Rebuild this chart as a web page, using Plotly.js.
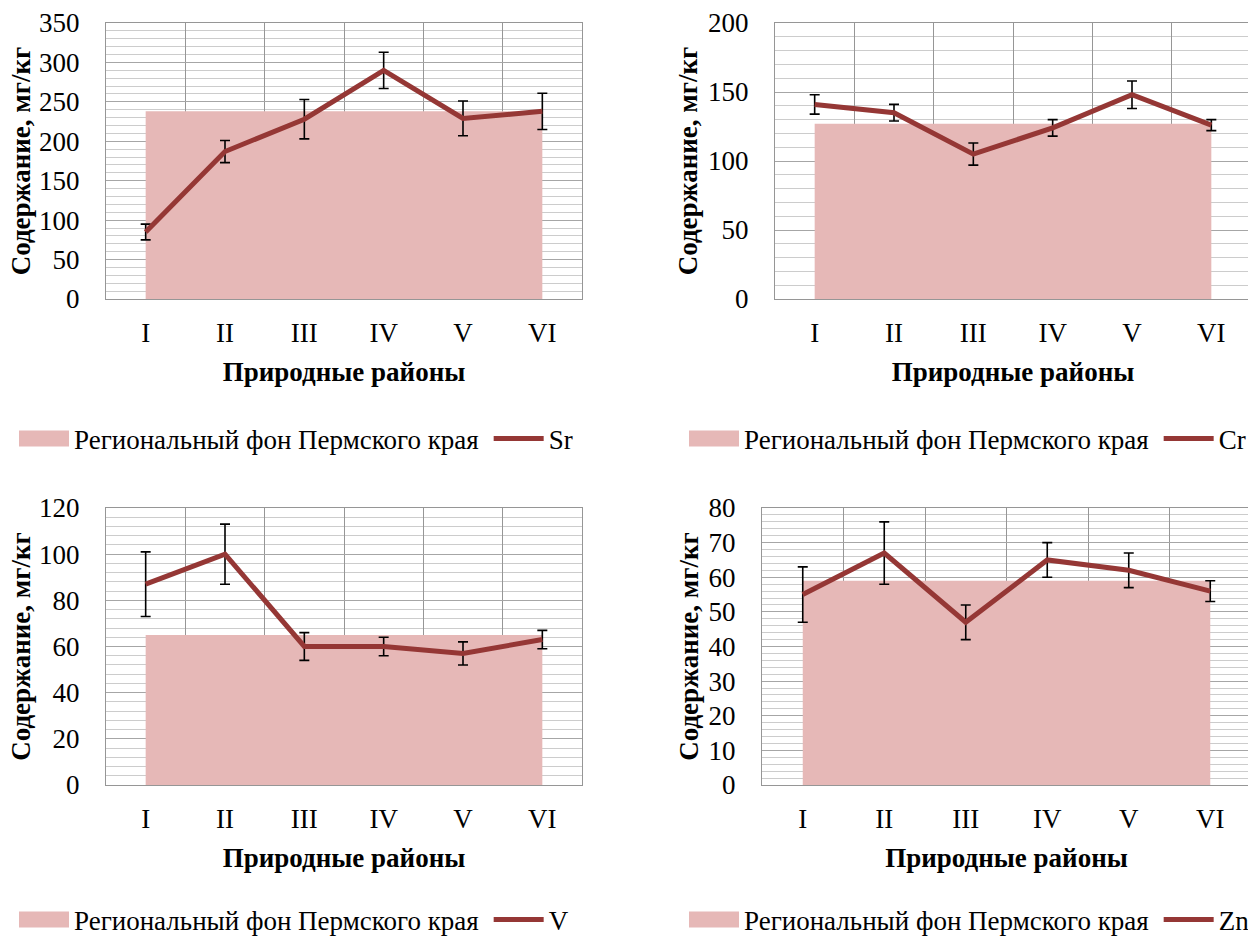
<!DOCTYPE html>
<html>
<head>
<meta charset="utf-8">
<script src="https://cdn.plot.ly/plotly-3.0.1.min.js"></script>
<style>
html,body{margin:0;padding:0;overflow:hidden;background:#fff;}
#chart{width:1252px;height:950px;}
</style>
</head>
<body>
<div id="chart"></div>
<script>
// ---- data ----
const categories = ['I', 'II', 'III', 'IV', 'V', 'VI'];

const srValues = [85, 187, 228, 290, 229, 238];
const srErrors = [10, 14, 25, 23, 22, 23];
const srBackground = 238;

const crValues = [141, 135, 105, 124, 148, 126];
const crErrors = [7, 6, 8, 6, 10, 4];
const crBackground = 127;

const vValues = [87, 100, 60, 60, 57, 63];
const vErrors = [14, 13, 6, 4, 5, 4];
const vBackground = 65;

const znValues = [55, 67, 47, 65, 62, 56];
const znErrors = [8, 9, 5, 5, 5, 3];
const znBackground = 59;

const backgroundName = 'Региональный фон Пермского края';
const xTitle = 'Природные районы';
const yTitle = 'Содержание, мг/кг';

// ---- style ----
const FONT = '"Liberation Serif", serif';
const FS = 27;
const W = 1252, H = 950;   // page is cropped to 1248x938, like the original picture
const fillColor = '#e6b8b7';
const lineColor = '#953735';

const panels = [
  {name: 'Sr', values: srValues, errors: srErrors, bg: srBackground, range: [0, 350], dtick: 50, minor: 10,
   x0: 106, x1: 582, top: 23, bottom: 299, legX: 14, legY: 439, ytStand: 0},
  {name: 'Cr', values: crValues, errors: crErrors, bg: crBackground, range: [0, 200], dtick: 50, minor: 10,
   x0: 775, x1: 1251, top: 23, bottom: 299, legX: 684, legY: 439, ytStand: 2},
  {name: 'V', values: vValues, errors: vErrors, bg: vBackground, range: [0, 120], dtick: 20, minor: 4,
   x0: 106, x1: 582, top: 508, bottom: 785, legX: 14, legY: 920, ytStand: 0},
  {name: 'Zn', values: znValues, errors: znErrors, bg: znBackground, range: [0, 80], dtick: 10, minor: 2,
   x0: 762, x1: 1251, top: 508, bottom: 785, legX: 684, legY: 920, ytStand: 2}
];

const traces = [];
const layout = {
  width: W, height: H,
  margin: {l: 0, r: 0, t: 0, b: 0},
  paper_bgcolor: '#fff', plot_bgcolor: '#fff',
  font: {family: FONT, size: FS, color: '#000'},
  showlegend: true
};

panels.forEach((p, i) => {
  const n = i + 1;
  const xa = 'x' + (n === 1 ? '' : n), ya = 'y' + (n === 1 ? '' : n);
  const legName = n === 1 ? 'legend' : 'legend' + n;
  traces.push({
    type: 'scatter', mode: 'lines', name: backgroundName,
    x: categories, y: categories.map(() => p.bg),
    fill: 'tozeroy', fillcolor: fillColor,
    line: {width: 0, color: fillColor},
    xaxis: xa, yaxis: ya, legend: legName, hoverinfo: 'skip'
  });
  traces.push({
    type: 'scatter', mode: 'lines', name: p.name,
    x: categories, y: p.values,
    line: {color: lineColor, width: 5},
    error_y: {type: 'data', array: p.errors, visible: true, color: '#000', thickness: 1.6, width: 5},
    xaxis: xa, yaxis: ya, legend: legName
  });
  const xKey = 'xaxis' + (n === 1 ? '' : n), yKey = 'yaxis' + (n === 1 ? '' : n);
  layout[xKey] = {
    domain: [p.x0 / W, p.x1 / W], anchor: ya,
    type: 'category', categoryorder: 'array', categoryarray: categories,
    range: [-0.5, 5.5], tickson: 'boundaries',
    showgrid: true, gridcolor: '#969696', gridwidth: 1,
    showline: true, linecolor: '#969696', linewidth: 1, mirror: true,
    ticks: '', ticklabelstandoff: 10,
    tickfont: {size: FS, color: '#000'},
    title: {text: xTitle, font: {size: FS, color: '#000', weight: 'bold'}, standoff: 14},
    fixedrange: true, zeroline: false, automargin: false
  };
  layout[yKey] = {
    domain: [1 - p.bottom / H, 1 - p.top / H], anchor: xa,
    range: p.range, dtick: p.dtick, tick0: 0,
    showgrid: true, gridcolor: '#a6a6a6', gridwidth: 1,
    minor: {dtick: p.minor, showgrid: true, gridcolor: '#cccccc', gridwidth: 1},
    showline: true, linecolor: '#969696', linewidth: 1, mirror: true,
    ticks: '', ticklabelstandoff: 20,
    tickfont: {size: FS, color: '#000'},
    title: {text: yTitle, font: {size: FS, color: '#000', weight: 'bold'}, standoff: p.ytStand},
    zeroline: false, fixedrange: true, automargin: false
  };
  layout[legName] = {
    x: p.legX / W, y: 1 - p.legY / H, xanchor: 'left', yanchor: 'middle',
    orientation: 'h', bgcolor: 'rgba(0,0,0,0)', borderwidth: 0,
    font: {size: FS, color: '#000'},
    itemwidth: 50, tracegroupgap: 0, traceorder: 'normal'
  };
});

function tweakLegends() {
  // a taller box for the area entry, as in the original legend
  document.querySelectorAll('.legendfill path').forEach(el => {
    let b;
    try { b = el.getBBox(); } catch (e) { return; }
    if (!b || b.width <= 0 || b.height >= 12) return;
    el.setAttribute('d', 'M' + b.x + ',-8h' + b.width + 'v16h-' + b.width + 'z');
  });
  document.querySelectorAll('.infolayer > g').forEach(g => {
    const cls = g.getAttribute('class') || '';
    if (!/^legend\d*$/.test(cls)) return;
    g.querySelectorAll('[clip-path]').forEach(c => c.removeAttribute('clip-path'));
    const items = g.querySelectorAll('g.traces');
    if (items.length > 1) {
      const it = items[1];
      const t = it.getAttribute('transform') || '';
      if (t === it.getAttribute('data-set')) return;
      const m = t.match(/translate\(\s*([-\d.]+)[ ,]+([-\d.]+)\s*\)/);
      if (m) {
        const nt = 'translate(' + (parseFloat(m[1]) + 5) + ',' + m[2] + ')';
        it.setAttribute('transform', nt);
        it.setAttribute('data-set', nt);
      }
    }
  });
}

const gd = document.getElementById('chart');
Plotly.newPlot(gd, traces, layout, {displayModeBar: false, staticPlot: true}).then(() => {
  tweakLegends();
  gd.on('plotly_afterplot', tweakLegends);
});
</script>
</body>
</html>
